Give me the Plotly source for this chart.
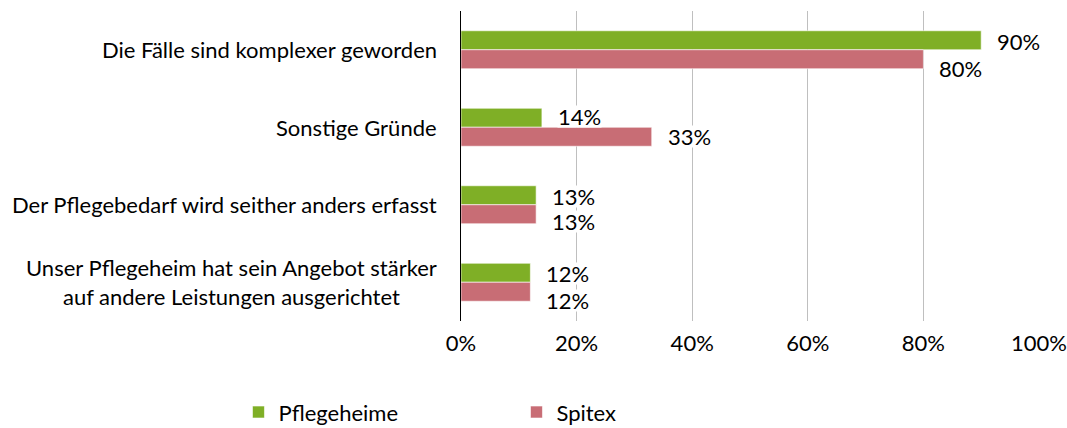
import plotly.graph_objects as go

# Reasons and shares per provider type
categories = [
    "Die Fälle sind komplexer geworden",
    "Sonstige Gründe",
    "Der Pflegebedarf wird seither anders erfasst",
    "Unser Pflegeheim hat sein Angebot stärker<br>auf andere Leistungen ausgerichtet",
]
pflegeheime = [0.90, 0.14, 0.13, 0.12]
spitex = [0.80, 0.33, 0.13, 0.12]
x_ticks = [0, 0.2, 0.4, 0.6, 0.8, 1.0]
x_tick_labels = ["0%", "20%", "40%", "60%", "80%", "100%"]

GREEN = "#7FAF26"
RED = "#C86D75"
FONT = "Lato"
FSIZE = 22

# vertical nudges (px, downward) for the value labels
pflegeheime_label_nudge = [1, -1, 1, 1]
spitex_label_nudge = [9, 0, 7, 9]

fig = go.Figure()
fig.add_trace(go.Bar(
    y=categories, x=pflegeheime, orientation="h", name="Pflegeheime",
    marker=dict(color=GREEN, line=dict(color="white", width=0.6)),
))
fig.add_trace(go.Bar(
    y=categories, x=spitex, orientation="h", name="Spitex",
    marker=dict(color=RED, line=dict(color="white", width=0.6)),
))

annotations = []
# category labels, centred lines, right-aligned to the axis
for cat in categories:
    annotations.append(dict(
        x=0, xref="paper", y=cat, yref="y", text=cat,
        xanchor="right", yanchor="middle", align="center",
        xshift=-22, showarrow=False,
        font=dict(family=FONT, size=FSIZE, color="black"),
    ))

# value labels in small white boxes over the gridlines
bar_half = 9.5
label_style = dict(
    xanchor="left", yanchor="middle", xshift=15, showarrow=False,
    bgcolor="white", borderpad=0, height=21, valign="middle",
    font=dict(family=FONT, size=FSIZE, color="black"),
)
for i, cat in enumerate(categories):
    annotations.append(dict(
        x=pflegeheime[i], y=cat, text=f"{pflegeheime[i]:.0%}",
        yshift=bar_half - pflegeheime_label_nudge[i], **label_style,
    ))
    annotations.append(dict(
        x=spitex[i], y=cat, text=f"{spitex[i]:.0%}",
        yshift=-bar_half - spitex_label_nudge[i], **label_style,
    ))

fig.update_layout(
    width=1067, height=428,
    margin=dict(l=461, r=28, t=11, b=107, autoexpand=False),
    paper_bgcolor="white", plot_bgcolor="white",
    barmode="group", bargap=0.51, bargroupgap=0,
    font=dict(family=FONT, size=FSIZE, color="black"),
    annotations=annotations,
    legend=dict(
        orientation="h", x=-0.385, xanchor="left", y=-0.362, yanchor="bottom",
        entrywidth=233, entrywidthmode="pixels",
        font=dict(family=FONT, size=FSIZE, color="black"),
        traceorder="normal",
    ),
    xaxis=dict(
        range=[0, 1], tickvals=x_ticks, ticktext=x_tick_labels,
        showgrid=True, gridcolor="#BFBFBF", gridwidth=1,
        zeroline=False, showline=False, ticks="",
        ticklabelstandoff=7,
        tickfont=dict(family=FONT, size=FSIZE, color="black"),
    ),
    yaxis=dict(
        autorange="reversed", showticklabels=False, ticks="",
        showline=True, linecolor="black", linewidth=1,
        showgrid=False, zeroline=False,
    ),
)

fig.write_html("out.html")
